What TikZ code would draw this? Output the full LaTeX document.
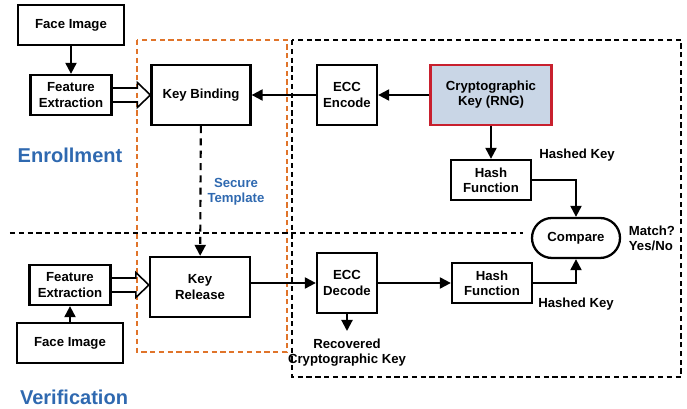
\documentclass[tikz,border=0pt]{standalone}
\usepackage{fontspec}
\setmainfont{Liberation Sans}
\usepackage{xcolor}
\usetikzlibrary{arrows.meta,calc}

\definecolor{phaseblue}{HTML}{2F69B0}
\definecolor{tmplorange}{HTML}{E0742A}
\definecolor{keyfill}{HTML}{C9D6E6}
\definecolor{keyred}{HTML}{C8202E}

\begin{document}
\begin{tikzpicture}[box/.style={draw, align=center, font=\fontsize{7.5}{8.6}\selectfont\bfseries,
       line width=1.3pt, inner sep=1pt},
       lbl/.style={align=center, font=\fontsize{7.5}{8.6}\selectfont\bfseries},
       >={Triangle[length=2.2mm,width=2.2mm]}, line width=1.2pt]
    \useasboundingbox (0,0) rectangle (13.74,-8.18);
    % regions
    \draw[tmplorange, dash pattern=on 3pt off 2pt] (2.74,-0.8) rectangle (5.74,-7.04);
    \draw[dash pattern=on 3pt off 2pt] (5.84,-0.8) rectangle (13.62,-7.54);
    \draw[dash pattern=on 3pt off 2pt] (0.2,-4.66) -- (10.46,-4.66);
    % enrollment
    \node (fi1) at (1.42,-0.5)  [box, minimum width=2.12cm, minimum height=0.8cm] {Face Image};
    \node (fe1) at (1.42,-1.9)  [box, minimum width=1.62cm, minimum height=0.8cm] {Feature\\Extraction};
    \node (kb)  at (4.02,-1.9)  [box, minimum width=1.98cm, minimum height=1.2cm] {Key Binding};
    \node (enc) at (6.94,-1.9)  [box, minimum width=1.2cm,  minimum height=1.2cm] {ECC\\Encode};
    \node (key) at (9.82,-1.9)  [box, draw=keyred, fill=keyfill, minimum width=2.42cm, minimum height=1.2cm] {Cryptographic\\Key (RNG)};
    \node (hf1) at (9.82,-3.6)  [box, minimum width=1.6cm,  minimum height=0.8cm] {Hash\\Function};
    \node (cmp) at (11.52,-4.76) [box, rounded corners=0.4cm, minimum width=1.76cm, minimum height=0.8cm] {Compare};
    % verification
    \node (fe2) at (1.4,-5.7)   [box, minimum width=1.62cm, minimum height=0.8cm] {Feature\\Extraction};
    \node (fi2) at (1.4,-6.86)  [box, minimum width=2.12cm, minimum height=0.8cm] {Face Image};
    \node (kr)  at (4.0,-5.74)  [box, minimum width=2.0cm,  minimum height=1.2cm] {Key\\Release};
    \node (dec) at (6.94,-5.66) [box, minimum width=1.2cm,  minimum height=1.2cm] {ECC\\Decode};
    \node (hf2) at (9.84,-5.66) [box, minimum width=1.6cm,  minimum height=0.8cm] {Hash\\Function};
    % labels
    \node (enr) at (1.4,-3.1)   [lbl, text=phaseblue, font=\fontsize{11.4}{13}\selectfont\bfseries] {Enrollment};
    \node (ver) at (1.48,-7.94) [lbl, text=phaseblue, font=\fontsize{11.4}{13}\selectfont\bfseries] {Verification};
    \node (st)  at (4.72,-3.84) [lbl, text=phaseblue] {Secure\\Template};
    \node (hk1) at (11.54,-3.1) [lbl] {Hashed Key};
    \node (hk2) at (11.52,-6.08) [lbl] {Hashed Key};
    \node (mt)  at (12.44,-4.76) [lbl, anchor=west, align=left] {Match?\\Yes/No};
    \coordinate (rec) at (6.94,-6.62);
    \node (rk)  at (6.94,-7.06) [lbl] {Recovered\\Cryptographic Key};
    % connectors
    \draw[->] (fi1) -- (fe1);
    \draw[->] (fi2) -- (fe2);
    \draw[->] (key) -- (enc);
    \draw[->] (enc) -- (kb);
    \draw[->] (key) -- (hf1);
    \draw[->] (hf1.east) -| (cmp.north);
    \draw[->, dash pattern=on 4pt off 3pt] (kb) -- (kr);
    \draw[->] (kr.east |- dec.west) -- (dec.west);
    \draw[->] (dec) -- (hf2);
    \draw[->] (hf2.east) -| (cmp.south);
    \draw[->] (dec) -- (rec);
    % hollow arrows
    \draw[line width=0.9pt] ($(fe1.east)+(0,0.14)$) -| ($(kb.west)+(-0.26,0.25)$) -- (kb.west)
        -- ($(kb.west)+(-0.26,-0.25)$) |- ($(fe1.east)+(0,-0.14)$);
    \draw[line width=0.9pt] ($(fe2.east)+(0,0.14)$) -| ($(kr.west)+(-0.26,0.29)$) -- ($(kr.west)+(0,0.04)$)
        -- ($(kr.west)+(-0.26,-0.21)$) |- ($(fe2.east)+(0,-0.14)$);
\end{tikzpicture}
\end{document}
